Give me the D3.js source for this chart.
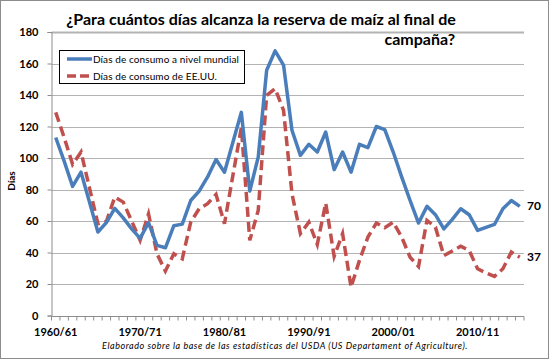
<!DOCTYPE html>
<html><head><meta charset="utf-8">
<script src="https://cdn.jsdelivr.net/npm/d3@7"></script>
<style>body{margin:0;background:#fff}svg{display:block}text{font-family:Lato,"Open Sans",sans-serif}</style>
</head><body><svg id="c" width="549" height="359"></svg>
<script>
const startYears = d3.range(1960, 2016);
const categories = startYears.map(y => y + "/" + String((y + 1) % 100).padStart(2, "0"));
const world = [113,98,82,91,72,53,59,68,62,55,49,59,44.5,43,57,58,73,79,88,99,91,110,129,79,100.6,155.7,168,159,117.6,101.7,108.7,103.8,116.5,92.6,103.8,91,108.7,106.6,120,118,103.8,88,73,58.7,69.3,64,55,61,67.8,64,54,56,57.8,67.8,73,69.3];
const usa = [129,113,96,103.8,81,58.3,59.7,75.2,72,60,47.7,64.6,39.2,28.2,39.2,36,59.3,67.8,71,76.9,58.3,89,119.3,47.7,66.7,139.8,144,130.3,77.3,52,59.3,45.1,71.4,37.5,52,18,35,49.8,58.7,55.7,59.3,49.8,37,31.1,60.4,56.1,38,41,44,41.3,29.7,27,24.8,29.7,40.3,37];
const yTicks = [0,20,40,60,80,100,120,140,160,180];
const labelEvery = 10;
const seriesNames = ["Días de consumo a nivel mundial", "Días de consumo de EE.UU."];
const endLabels = ["70", "37"];
const titleLines = ["¿Para cuántos días alcanza la reserva de maíz al final de", "campaña?"];
const footnote = "Elaborado sobre la base de las estadísticas del USDA (US Departament of Agriculture).";

const svg = d3.select("#c");
const L = 51.5, R = 524, T = 32, B = 315.5;
svg.append("rect").attr("x",0.5).attr("y",0.5).attr("width",548).attr("height",358).attr("fill","#fff").attr("stroke","#8c8c8c");

const x = d3.scaleBand().domain(categories).range([L, R]).paddingInner(0).paddingOuter(0);
const xc = c => x(c) + x.bandwidth()/2;
const y = d3.scaleLinear().domain([0,180]).range([B, T]);

// gridlines
svg.append("g").selectAll("line").data(yTicks.filter(d=>d>0)).join("line")
  .attr("x1", L).attr("x2", R).attr("y1", d=>Math.round(y(d))+0.5).attr("y2", d=>Math.round(y(d))+0.5)
  .attr("stroke", "#b3b3b3").attr("stroke-width", d=>d===180?2:1);

// y axis
const ya = d3.axisLeft(y).tickValues(yTicks).tickSize(4).tickPadding(9);
const gy = svg.append("g").attr("transform", `translate(${L},0)`).call(ya);
gy.select(".domain").attr("stroke","#8c8c8c");
gy.selectAll(".tick line").attr("stroke","#8c8c8c");
gy.selectAll("text").attr("font-size", 11).attr("font-weight","bold").attr("fill","#000");

// x axis: ticks at category boundaries
const gx = svg.append("g").attr("transform", `translate(0,${Math.round(B)+0.5})`);
gx.append("line").attr("x1", L).attr("x2", R).attr("stroke","#8c8c8c");
const bounds = categories.map(c => x(c)).concat([R]);
gx.selectAll("line.t").data(bounds).join("line").attr("class","t")
  .attr("x1", d=>d).attr("x2", d=>d).attr("y1",0).attr("y2",4).attr("stroke","#8c8c8c");
gx.selectAll("text").data(categories.filter((c,i)=>i%labelEvery===0)).join("text")
  .attr("x", d=>xc(d)).attr("y", 19).attr("text-anchor","middle")
  .attr("font-size", 11).attr("font-weight","bold").text(d=>d);

// y title
svg.append("text").attr("transform","translate(15,181) rotate(-90)").attr("text-anchor","middle")
  .attr("font-size",10).attr("font-weight","bold").text("Días");

// lines
const line = d3.line().x((d,i)=>xc(categories[i])).y(d=>y(d));
svg.append("path").datum(usa).attr("d", line).attr("fill","none").attr("stroke","#C0504D")
  .attr("stroke-width",3.5).attr("stroke-dasharray","10,5");
svg.append("path").datum(world).attr("d", line).attr("fill","none").attr("stroke","#4A7EBB")
  .attr("stroke-width",3.5).attr("stroke-linejoin","round");

// end labels
svg.append("text").attr("x", 527).attr("y", y(world[world.length-1])+4).attr("font-size",12).attr("font-weight","bold").text(endLabels[0]);
svg.append("text").attr("x", 527).attr("y", y(usa[usa.length-1])+4).attr("font-size",12).attr("font-weight","bold").text(endLabels[1]);

// legend
const lg = svg.append("g");
lg.append("rect").attr("x",59.5).attr("y",50.5).attr("width",185).attr("height",33).attr("fill","#fff").attr("stroke","#000");
lg.append("line").attr("x1",67).attr("x2",92).attr("y1",59).attr("y2",59).attr("stroke","#4A7EBB").attr("stroke-width",3.5);
lg.append("line").attr("x1",67).attr("x2",92).attr("y1",76).attr("y2",76).attr("stroke","#C0504D").attr("stroke-width",3.5).attr("stroke-dasharray","9,4");
lg.append("text").attr("x",93).attr("y",62.5).attr("font-size",10).attr("letter-spacing",0.1).text(seriesNames[0]);
lg.append("text").attr("x",93).attr("y",79.5).attr("font-size",10).attr("letter-spacing",0.1).text(seriesNames[1]);

// title
svg.append("text").attr("x",261).attr("y",25).attr("text-anchor","middle").attr("font-size",16).attr("font-weight","bold").text(titleLines[0]);
svg.append("text").attr("x",455).attr("y",45).attr("text-anchor","end").attr("font-size",16).attr("font-weight","bold").text(titleLines[1]);

// footnote
svg.append("text").attr("x",285).attr("y",349).attr("text-anchor","middle").attr("font-size",9).attr("font-style","italic").attr("letter-spacing",0.55).text(footnote);
</script></body></html>
